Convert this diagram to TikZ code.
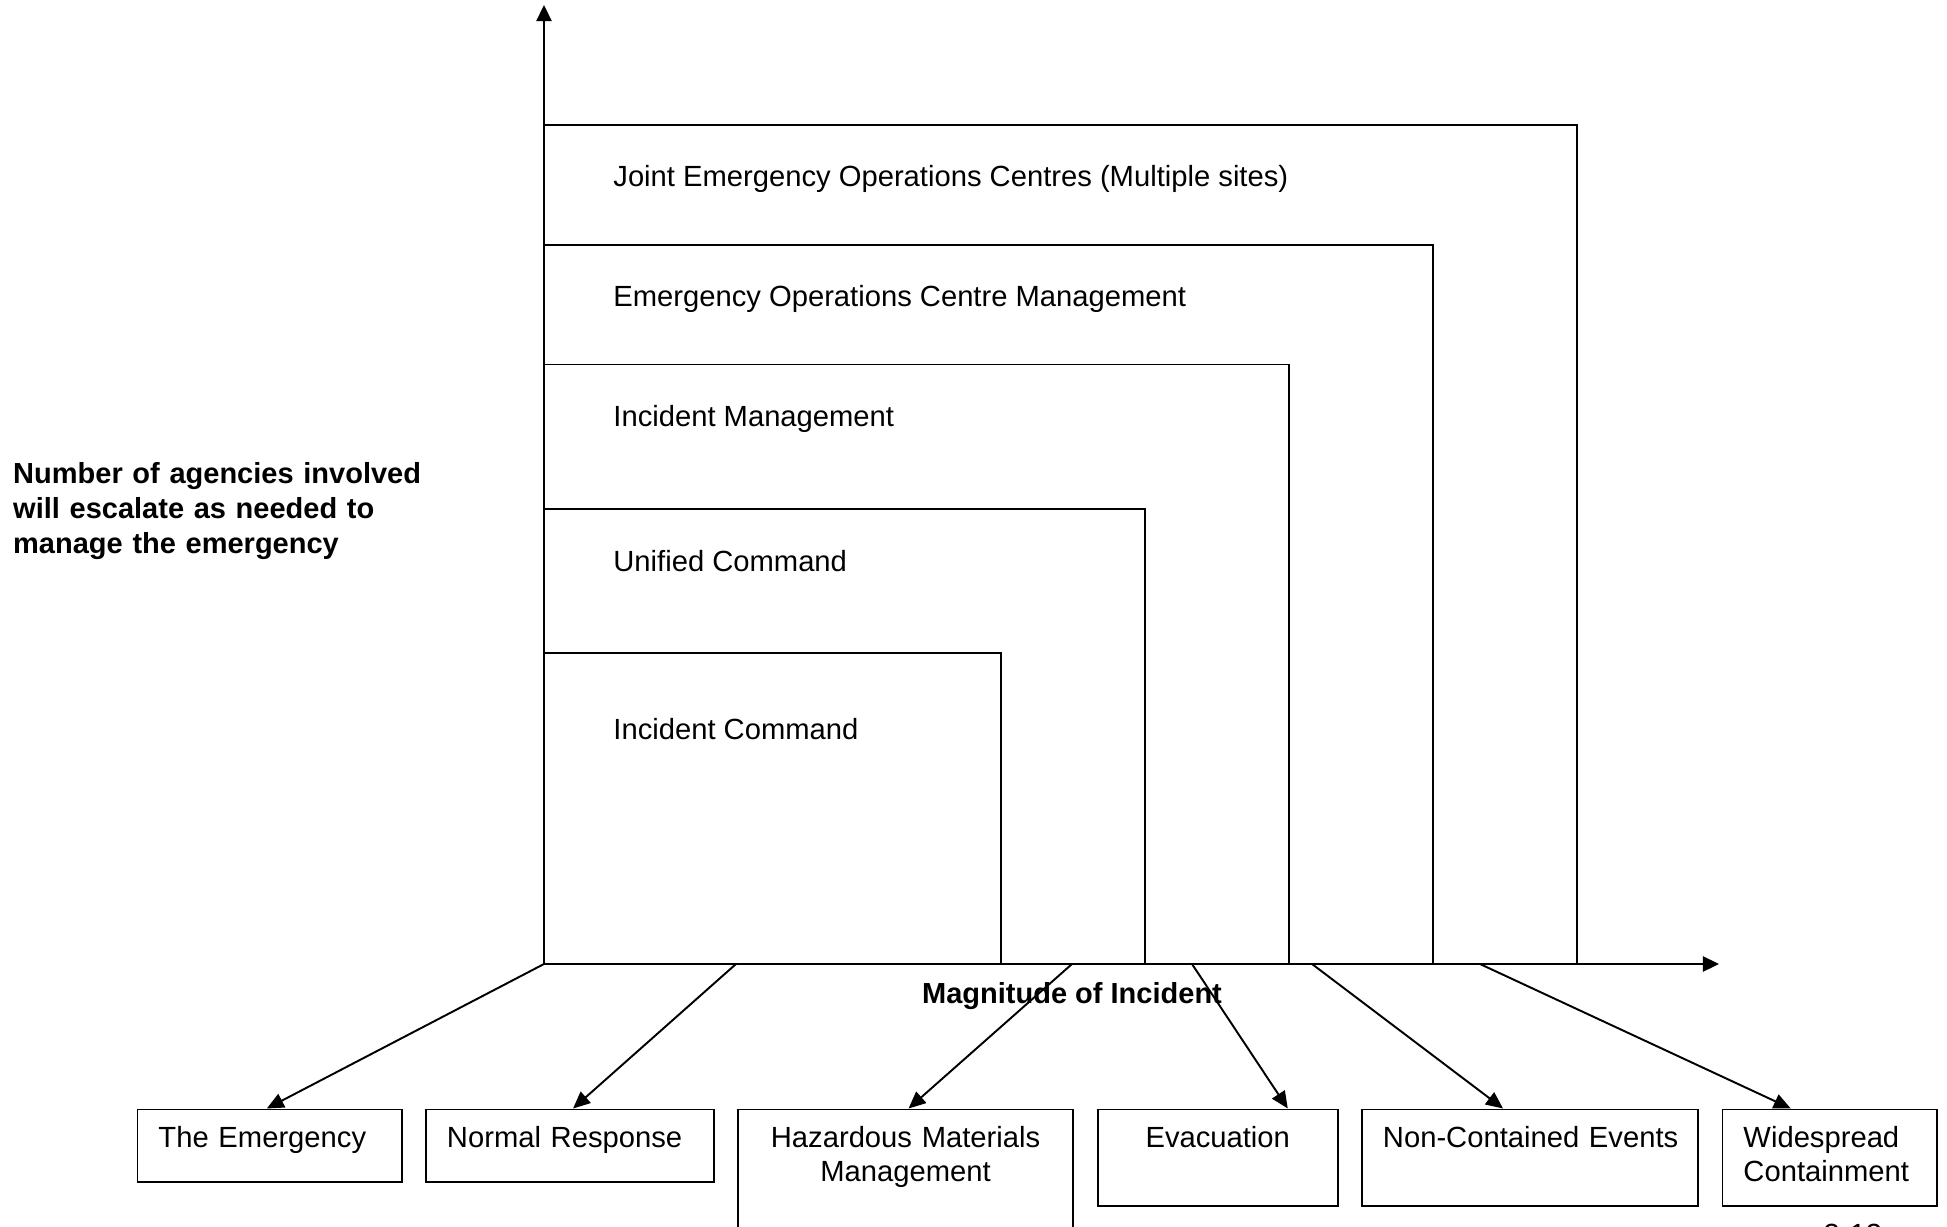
\documentclass[tikz,border=0pt]{standalone}
\usepackage{fontspec}
\setmainfont{Liberation Sans}
\usetikzlibrary{arrows.meta}

\tikzstyle{axis}=[line width=0.65pt, -{Triangle[length=0.16cm,width=0.15cm]}]
\tikzstyle{band}=[line width=0.55pt]
\tikzstyle{bandlbl}=[anchor=base west, inner sep=0pt, font=\fontsize{8.3}{9.8}\selectfont]
\tikzstyle{boldlbl}=[inner sep=0pt, font=\bfseries\fontsize{8.25}{9.96}\selectfont]
\tikzstyle{evbox}=[draw, line width=0.55pt, anchor=north west, inner xsep=0.21cm, inner ysep=0pt, text height=0.38cm, font=\fontsize{8.3}{9.7}\selectfont]
\tikzstyle{evarrow}=[line width=0.55pt, -{Triangle[length=0.17cm,width=0.15cm]}]

\begin{document}
\begin{tikzpicture}[x=0.01cm, y=-0.01cm]
        \useasboundingbox (0,0) rectangle (1947,1227);

        % axes
        \coordinate (O) at (544,964);
        \coordinate (ytip) at (544,5);
        \coordinate (xtip) at (1719,964);
        \draw[axis] (O) -- (ytip);
        \draw[axis] (O) -- (xtip);

        % nested bands
        \draw[band] (O) rectangle (1577,125);
        \draw[band] (O) rectangle (1433,245);
        \draw[band] (O) rectangle (1289,364.5);
        \draw[band] (O) rectangle (1145,509);
        \draw[band] (O) rectangle (1001,652.7);

        \node[bandlbl] (jeoc) at (612.7,186) {Joint Emergency Operations Centres (Multiple sites)};
        \node[bandlbl] (eocm) at (612.7,306) {Emergency Operations Centre Management};
        \node[bandlbl] (incm) at (612.7,426) {Incident Management};
        \node[bandlbl] (ucmd) at (612.7,571) {Unified Command};
        \node[bandlbl] (icmd) at (612.7,739) {Incident Command};

        \node[boldlbl, anchor=base west, text width=5cm, align=left] (agencies) at (12.5,483)
            {Number of agencies involved\\will escalate as needed to\\manage the emergency};
        \node[boldlbl, anchor=base] (magn) at (1072,1003) {Magnitude of Incident};

        % event boxes
        \node[evbox, text width=2.225cm, text depth=0.345cm, align=left]   (emerg)   at (136.5,1108.5) {The Emergency};
        \node[evbox, text width=2.46cm,  text depth=0.345cm, align=left]   (normal)  at (425,1108.5)   {Normal Response};
        \node[evbox, text width=2.93cm,  text depth=1.035cm, align=center] (hazmat)  at (737,1108.5)   {Hazardous Materials\\Management};
        \node[evbox, text width=1.98cm,  text depth=0.585cm, align=center] (evac)    at (1096.7,1108.5){Evacuation};
        \node[evbox, text width=2.94cm,  text depth=0.585cm, align=left]   (noncont) at (1361,1108.5)  {\mbox{Non-Contained Events}};
        \node[evbox, text width=1.725cm, text depth=0.585cm, align=left]   (wide)    at (1721.5,1108.5){Widespread\\Containment};

        \coordinate (a1) at (544,964);
        \coordinate (a2) at (736,964);
        \coordinate (a3) at (1072,964);
        \coordinate (a4) at (1192,964);
        \coordinate (a5) at (1312,964);
        \coordinate (a6) at (1480,964);
        \draw[evarrow] (a1) -- ([xshift=-0.03cm]emerg.north);
        \draw[evarrow] (a2) -- ([xshift=0.03cm]normal.north);
        \draw[evarrow] (a3) -- ([xshift=0.03cm]hazmat.north);
        \draw[evarrow] (a4) -- ([xshift=0.7cm]evac.north);
        \draw[evarrow] (a5) -- ([xshift=-0.27cm]noncont.north);
        \draw[evarrow] (a6) -- ([xshift=-0.39cm]wide.north);

        \node[bandlbl] (pageno) at (1823,1244) {3-13};
\end{tikzpicture}
\end{document}
